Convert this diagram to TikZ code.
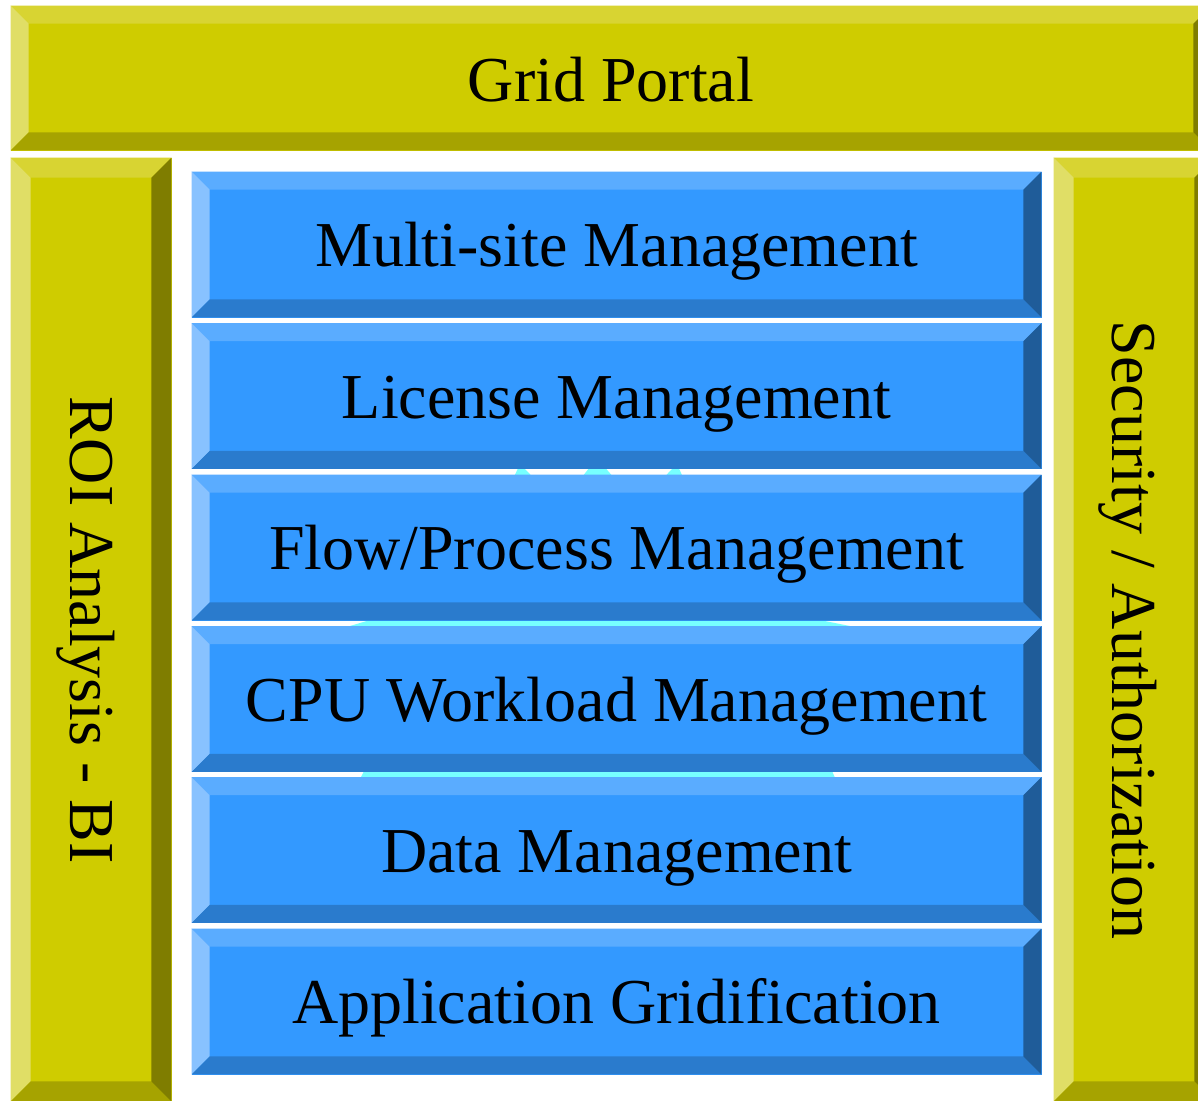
\documentclass[tikz,border=0pt]{standalone}
\usepackage{fontspec}
\setmainfont{Liberation Serif}
\definecolor{Ymain}{HTML}{CFCC00}
\definecolor{Ytop}{HTML}{D8D432}
\definecolor{Yleft}{HTML}{E0DE66}
\definecolor{Ybot}{HTML}{A6A300}
\definecolor{Yright}{HTML}{7F7D00}
\definecolor{Bmain}{HTML}{3399FF}
\definecolor{Btop}{HTML}{5AACFF}
\definecolor{Bleft}{HTML}{88C2FF}
\definecolor{Bbot}{HTML}{2A7BCD}
\definecolor{Bright}{HTML}{1F5C99}
\definecolor{Hcyan}{HTML}{77FFFF}
% #1 node name, #2 bevel size, #3 colour prefix
\newcommand\mybevel[3]{%
  \fill[#3top] (#1.north west) -- (#1.north east) -- ([xshift=-#2,yshift=-#2]#1.north east) -- ([xshift=#2,yshift=-#2]#1.north west) -- cycle;
  \fill[#3left] (#1.north west) -- ([xshift=#2,yshift=-#2]#1.north west) -- ([xshift=#2,yshift=#2]#1.south west) -- (#1.south west) -- cycle;
  \fill[#3bot] (#1.south west) -- ([xshift=#2,yshift=#2]#1.south west) -- ([xshift=-#2,yshift=#2]#1.south east) -- (#1.south east) -- cycle;
  \fill[#3right] (#1.north east) -- (#1.south east) -- ([xshift=-#2,yshift=#2]#1.south east) -- ([xshift=-#2,yshift=-#2]#1.north east) -- cycle;
}
\tikzset{
  ybar/.style={rectangle, fill=Ymain, draw=Ymain, line width=0.8pt, inner sep=0pt},
  bbox/.style={rectangle, fill=Bmain, draw=Bmain, line width=0.8pt, inner sep=0pt, minimum width=849pt, minimum height=145pt},
  lbl/.style={inner sep=0pt, font=\fontsize{64}{70}\selectfont, text=black},
}
\begin{document}
\begin{tikzpicture}[x=1pt,y=-1pt]
\useasboundingbox (0,0) rectangle (1198,1100);
\clip (0,0) rectangle (1198,1100);
\fill[white] (0,0) rectangle (1198,1100);

% top bar
\node[ybar, minimum width=1200pt, minimum height=144pt] (portal) at (611,78) {};
\mybevel{portal}{18pt}{Y}
\node[lbl, anchor=base] (tportal) at (611,101) {Grid Portal};

% side bars
\node[ybar, minimum width=160pt, minimum height=943pt] (roi) at (91,629.5) {};
\mybevel{roi}{20pt}{Y}
\node[lbl, rotate=-90, anchor=base] (troi) at (70,630) {ROI Analysis - BI};

\node[ybar, minimum width=160pt, minimum height=943pt] (sec) at (1134,629.5) {};
\mybevel{sec}{20pt}{Y}
\node[lbl, rotate=-90, anchor=base] (tsec) at (1112,630) {Security / Authorization};

% hidden cyan shape behind the stack
\fill[Hcyan] (520,464) -- (560,505) -- (597,458) -- (637,505) -- (677,464) -- (720,560)
  -- (810,618) -- (900,636) -- (832,771) -- (845,800) -- (600,810) -- (350,800)
  -- (364,771) -- (330,632) -- (420,605) -- (475,560) -- cycle;

% blue stack
\foreach \i/\y/\t in {1/244.5/{Multi-site Management},
                      2/396/{License Management},
                      3/547.5/{Flow/Process Management},
                      4/699/{CPU Workload Management},
                      5/850/{Data Management},
                      6/1001.5/{Application Gridification}}{
  \node[bbox] (b\i) at (616.5,\y) {};
  \mybevel{b\i}{18pt}{B}
  \node[lbl, anchor=base] (t\i) at ([yshift=-22pt]b\i.center) {\t};
}
\end{tikzpicture}
\end{document}
